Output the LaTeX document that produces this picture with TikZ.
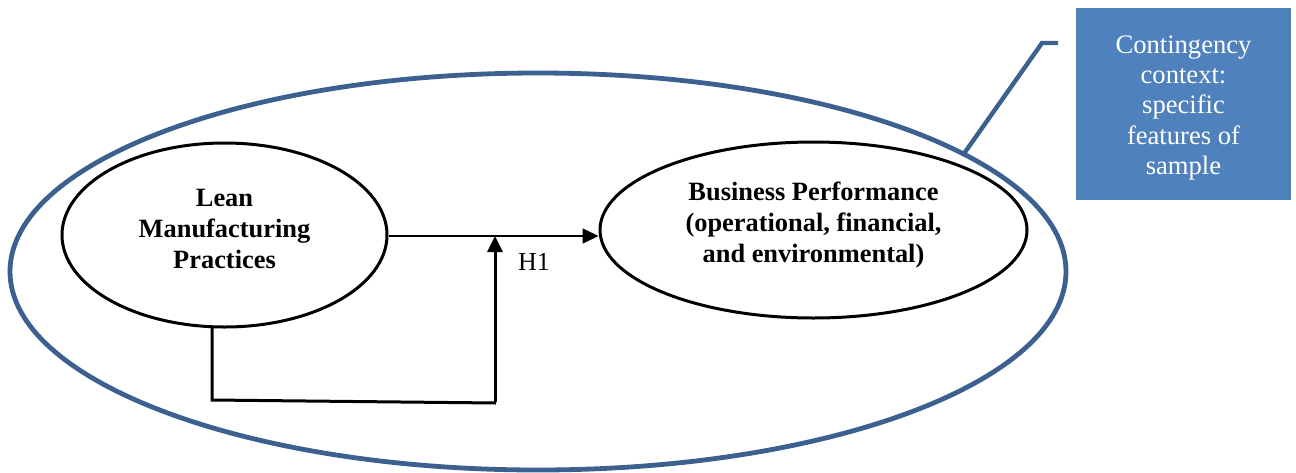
\documentclass[tikz,border=0pt]{standalone}
\usepackage{fontspec}
\setmainfont{Liberation Serif}
\usetikzlibrary{shapes.geometric,arrows.meta,calc}
\definecolor{ctxblue}{RGB}{79,129,189}
\definecolor{ringblue}{RGB}{60,96,143}
\begin{document}
\begin{tikzpicture}[x=0.5pt,y=-0.5pt,
  txt/.style={font=\fontsize{13}{15.6}\selectfont},
  ring/.style={ellipse,draw=ringblue,line width=2.4pt,minimum width=528pt,minimum height=198.5pt,inner sep=0pt},
  construct/.style={ellipse,draw=black,line width=1.5pt,inner sep=0pt},
  constructtext/.style={align=center,inner sep=0pt,font=\fontsize{13.2}{15.6}\selectfont\bfseries},
  ctxbox/.style={rectangle,fill=ctxblue,minimum width=107.5pt,minimum height=96pt,inner sep=0pt},
  ctxtext/.style={text=white,align=center,inner sep=0pt,font=\fontsize{13.3}{15.2}\selectfont},
  mainarrow/.style={draw=black,line width=1pt,-{Triangle[length=8pt,width=7.5pt]}},
  modarrow/.style={draw=black,line width=1.5pt,-{Triangle[length=8pt,width=7.5pt]}},
  modline/.style={draw=black,line width=1.5pt},
  callout/.style={draw=ringblue,line width=2.2pt}
]
\useasboundingbox (0,0) rectangle (1296,472);

\node[ring] (ctx) at (538,271.5) {};

\node[construct,minimum width=162.5pt,minimum height=92pt] (lmp) at (224.5,235) {};
\node[constructtext] (lmptext) at ($(lmp.center)+(0,-6)$) {Lean\\Manufacturing\\Practices};
\node[construct,minimum width=213.5pt,minimum height=88pt] (bp) at (813.5,230) {};
\node[constructtext] (bptext) at ($(bp.center)+(0,-5)$)
  {Business Performance\\(operational, financial,\\and environmental)};

\node[ctxbox] (cbox) at (1183.5,104) {};
\node[ctxtext] (cboxtext) at ($(cbox.center)+(0,4)$)
  {Contingency\\context:\\specific\\features of\\sample};

% main relationship H1
\coordinate (hit) at (495,236);
\draw[mainarrow] (lmp.east |- hit) -- (hit -| bp.west);
\node[txt] (h1) at (534,262) {H1};

% moderating path
\coordinate (lstart) at (212,326);
\coordinate (lcorner) at (212,400);
\coordinate (lend) at (496,403);
\coordinate (vbottom) at (495,402);
\draw[modline] (lstart) -- (lcorner) -- (lend);
\draw[modarrow] (vbottom) -- (hit);

% callout line to context box
\coordinate (c1) at (963,155);
\coordinate (c2) at (1042,43);
\coordinate (c3) at (1058,43);
\draw[callout] (c1) -- (c2) -- (c3);
\end{tikzpicture}
\end{document}
